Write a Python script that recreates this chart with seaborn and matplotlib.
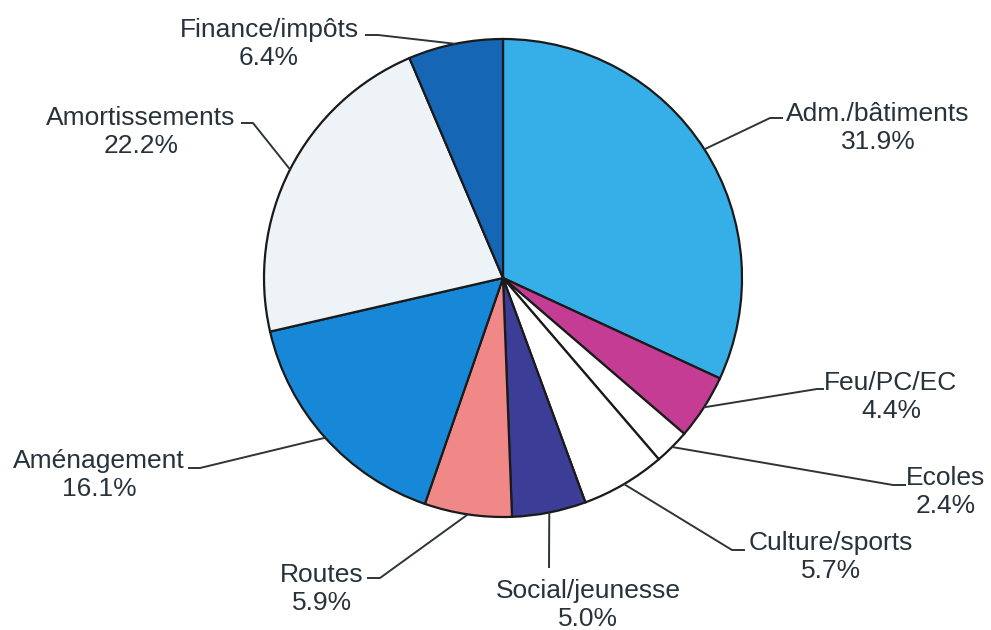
import numpy as np
import matplotlib
matplotlib.use("Agg")
import matplotlib.pyplot as plt
import seaborn as sns

# data, clockwise from 12 o'clock
categories = ['Adm./bâtiments', 'Feu/PC/EC', 'Ecoles', 'Culture/sports', 'Social/jeunesse',
              'Routes', 'Aménagement', 'Amortissements', 'Finance/impôts']
shares = [31.9, 4.4, 2.4, 5.7, 5.0, 5.9, 16.1, 22.2, 6.4]
colors = ['#36aee8', '#c43c93', '#ffffff', '#ffffff', '#3b3d96',
          '#f08888', '#1788d8', '#eef3f8', '#1666b6']

sns.set_theme(style="white")
plt.rcParams['font.family'] = ['Liberation Sans', 'DejaVu Sans']

W, H = 991, 630
fig = plt.figure(figsize=(W / 100, H / 100), dpi=100)
ax = fig.add_axes([0, 0, 1, 1])

# pie in pixel units (y up)
cx, cy, r = 503, H - 278, 239
wedges, _ = ax.pie(shares, colors=colors, startangle=90, counterclock=False,
                   center=(cx, cy), radius=r,
                   wedgeprops=dict(edgecolor='#1a1a1a', linewidth=1.6))
ax.set_aspect('auto')
ax.set_xlim(0, W)
ax.set_ylim(0, H)
ax.axis('off')

# label layout: text centre, elbow point, end of short horizontal tick (pixels, y down)
label_pos = [(878, 128), (891, 397), (946, 492), (831, 557), (588, 605),
             (322, 589), (99, 475), (141, 132), (269, 44)]
elbows = [(770, 118), (817, 389), (893, 485), (732, 550), (549, 568),
          (380, 578), (200, 468), (253, 123), (378, 35)]
ticks = [(783, 118), (824, 389), (906, 485), (745, 550), None,
         (367, 578), (188, 468), (241, 123), (365, 35)]

txt_color = '#27323a'
for w, name, val, pos, elb, tk in zip(wedges, categories, shares, label_pos, elbows, ticks):
    mid = np.deg2rad((w.theta1 + w.theta2) / 2)
    ex, ey = cx + r * np.cos(mid), cy + r * np.sin(mid)
    xs = [ex, elb[0]]
    ys = [ey, H - elb[1]]
    if tk is not None:
        xs.append(tk[0])
        ys.append(H - tk[1])
    ax.plot(xs, ys, color='#2e3438', lw=1.4, solid_capstyle='butt')
    ax.text(pos[0], H - pos[1], f'{name}\n{val:.1f}%', ha='center', va='center',
            fontsize=19, color=txt_color, linespacing=1.2)

fig.savefig('out.png', dpi=100, facecolor='white')
